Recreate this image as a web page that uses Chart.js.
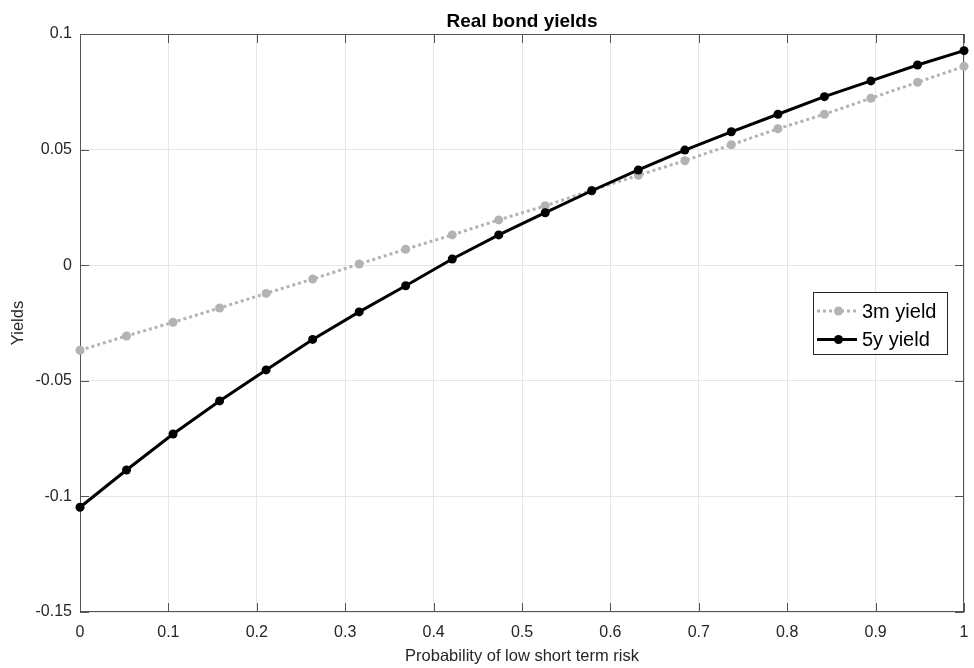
<!DOCTYPE html>
<html lang="en">
<head>
    <meta charset="UTF-8">
    <title>Real bond yields</title>
    <script src="https://cdn.jsdelivr.net/npm/chart.js"></script>
    <style>
        body { margin: 0; background: #fff; }
    </style>
</head>
<body>
    <canvas id="yieldChart" width="974" height="668"></canvas>

    <script>
        // probability grid (x) and yields
        const probs = [0, 0.0526, 0.1053, 0.1579, 0.2105, 0.2632, 0.3158, 0.3684, 0.4211, 0.4737,
                       0.5263, 0.5789, 0.6316, 0.6842, 0.7368, 0.7895, 0.8421, 0.8947, 0.9474, 1];
        const yield3m = [-0.0368, -0.0306, -0.0247, -0.0185, -0.0122, -0.006, 0.0005, 0.0069, 0.0131, 0.0196,
                         0.0257, 0.0324, 0.0389, 0.0452, 0.0521, 0.059, 0.0653, 0.0722, 0.0791, 0.086];
        const yield5y = [-0.1047, -0.0886, -0.073, -0.0587, -0.0453, -0.0321, -0.0202, -0.0089, 0.0027, 0.0131,
                         0.0227, 0.0322, 0.0412, 0.0498, 0.0577, 0.0653, 0.0729, 0.0797, 0.0866, 0.0928];
        const seriesNames = ['3m yield', '5y yield'];

        const xTicks = [0, 0.1, 0.2, 0.3, 0.4, 0.5, 0.6, 0.7, 0.8, 0.9, 1];
        const xTickLabels = ['0', '0.1', '0.2', '0.3', '0.4', '0.5', '0.6', '0.7', '0.8', '0.9', '1'];
        const yTicks = [-0.15, -0.1, -0.05, 0, 0.05, 0.1];
        const yTickLabels = ['-0.15', '-0.1', '-0.05', '0', '0.05', '0.1'];

        const textColor = '#262626';
        const fontFamily = '"Liberation Sans", Arial, Helvetica, sans-serif';

        const toPoints = ys => ys.map((y, i) => ({ x: probs[i], y: y }));

        // frame with inward ticks, drawn under the lines like MATLAB
        const framePlugin = {
            id: 'frame',
            beforeDatasetsDraw(chart) {
                const { ctx, chartArea: a, scales } = chart;
                const len = 9;
                ctx.save();
                ctx.strokeStyle = '#555';
                ctx.lineWidth = 1;
                ctx.strokeRect(a.left + 0.5, a.top + 0.5, a.right - a.left - 1, a.bottom - a.top - 1);
                ctx.beginPath();
                xTicks.forEach(v => {
                    const px = Math.round(scales.x.getPixelForValue(v)) + 0.5;
                    ctx.moveTo(px, a.bottom); ctx.lineTo(px, a.bottom - len);
                    ctx.moveTo(px, a.top); ctx.lineTo(px, a.top + len);
                });
                yTicks.forEach(v => {
                    const py = Math.round(scales.y.getPixelForValue(v)) + 0.5;
                    ctx.moveTo(a.left, py); ctx.lineTo(a.left + len, py);
                    ctx.moveTo(a.right, py); ctx.lineTo(a.right - len, py);
                });
                ctx.stroke();
                ctx.restore();
            },
            afterDraw(chart) {
                const { ctx, chartArea: a } = chart;
                ctx.save();
                // title centred over the axes
                ctx.fillStyle = '#000';
                ctx.font = 'bold 19px ' + fontFamily;
                ctx.textAlign = 'center';
                ctx.textBaseline = 'alphabetic';
                ctx.fillText('Real bond yields', (a.left + a.right) / 2, 26.5);

                // legend box
                const bx = 813, by = 292, bw = 134, bh = 62;
                ctx.fillStyle = '#fff';
                ctx.fillRect(bx, by, bw, bh);
                ctx.strokeStyle = textColor;
                ctx.lineWidth = 1;
                ctx.strokeRect(bx + 0.5, by + 0.5, bw, bh);
                const rows = [311, 339.5];
                chart.data.datasets.forEach((ds, i) => {
                    const y = rows[i];
                    ctx.strokeStyle = ds.borderColor;
                    ctx.lineWidth = ds.borderWidth;
                    ctx.setLineDash(ds.borderDash || []);
                    ctx.beginPath();
                    ctx.moveTo(817, y); ctx.lineTo(857, y);
                    ctx.stroke();
                    ctx.setLineDash([]);
                    ctx.fillStyle = ds.pointBackgroundColor;
                    ctx.beginPath();
                    ctx.arc(838.5, y, ds.pointRadius, 0, Math.PI * 2);
                    ctx.fill();
                    ctx.fillStyle = '#000';
                    ctx.font = '20px ' + fontFamily;
                    ctx.textAlign = 'left';
                    ctx.textBaseline = 'middle';
                    ctx.fillText(ds.label, 862, y + 1);
                });
                ctx.restore();
            }
        };

        const ctx = document.getElementById('yieldChart').getContext('2d');
        new Chart(ctx, {
            type: 'line',
            data: {
                datasets: [{
                    label: seriesNames[0],
                    data: toPoints(yield3m),
                    borderColor: '#b3b3b3',
                    backgroundColor: '#b3b3b3',
                    pointBackgroundColor: '#b3b3b3',
                    pointBorderWidth: 0,
                    pointRadius: 4.5,
                    borderWidth: 3,
                    borderDash: [3, 3],
                    tension: 0,
                    fill: false,
                    clip: false,
                    order: 1
                }, {
                    label: seriesNames[1],
                    data: toPoints(yield5y),
                    borderColor: '#000',
                    backgroundColor: '#000',
                    pointBackgroundColor: '#000',
                    pointBorderWidth: 0,
                    pointRadius: 4.5,
                    borderWidth: 3,
                    tension: 0,
                    fill: false,
                    clip: false,
                    order: 0
                }]
            },
            options: {
                responsive: false,
                animation: false,
                layout: { padding: { left: 0, right: 10, top: 34, bottom: 0 } },
                plugins: {
                    legend: { display: false },
                    title: { display: false },
                    tooltip: { enabled: false }
                },
                scales: {
                    x: {
                        type: 'linear',
                        min: 0,
                        max: 1,
                        afterBuildTicks: s => { s.ticks = xTicks.map(v => ({ value: v })); },
                        afterFit: s => { s.height = 56; s.paddingLeft = 0; s.paddingRight = 0; },
                        grid: { color: '#e6e6e6', drawTicks: false },
                        border: { display: false },
                        ticks: {
                            padding: 11,
                            color: textColor,
                            font: { family: fontFamily, size: 16 },
                            maxRotation: 0,
                            callback: (v, i) => xTickLabels[i]
                        },
                        title: {
                            display: true,
                            text: 'Probability of low short term risk',
                            color: textColor,
                            font: { family: fontFamily, size: 16.5 },
                            padding: { top: 0, bottom: 2 }
                        }
                    },
                    y: {
                        type: 'linear',
                        min: -0.15,
                        max: 0.1,
                        afterBuildTicks: s => { s.ticks = yTicks.map(v => ({ value: v })); },
                        afterFit: s => { s.width = 80; },
                        grid: { color: '#e6e6e6', drawTicks: false },
                        border: { display: false },
                        ticks: {
                            padding: 8,
                            color: textColor,
                            font: { family: fontFamily, size: 16 },
                            callback: (v, i) => yTickLabels[i]
                        },
                        title: {
                            display: true,
                            text: 'Yields',
                            color: textColor,
                            font: { family: fontFamily, size: 16.5 },
                            padding: { top: 9, bottom: 0 }
                        }
                    }
                }
            },
            plugins: [framePlugin]
        });
    </script>
</body>
</html>
